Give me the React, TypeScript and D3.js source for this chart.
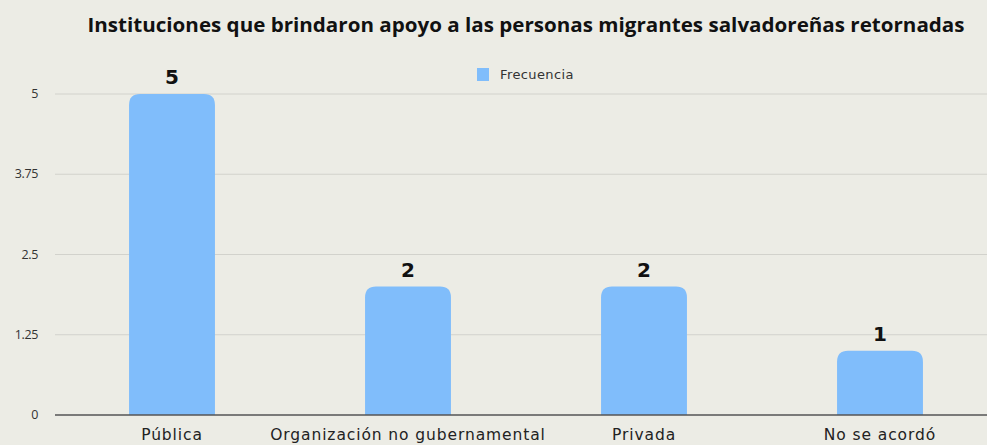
import React from "react";
import * as d3 from "d3";

const categories = ["Pública", "Organización no gubernamental", "Privada", "No se acordó"];
const values = [5, 2, 2, 1];
const yTicks = [0, 1.25, 2.5, 3.75, 5];
const yTickLabels = ["0", "1.25", "2.5", "3.75", "5"];
const seriesName = "Frecuencia";
const title = "Instituciones que brindaron apoyo a las personas migrantes salvadoreñas retornadas";

const W = 987;
const H = 445;

export default function App() {
  const x = d3.scaleBand<string>().domain(categories).range([54, 998]).paddingInner(0.636).paddingOuter(0.318);
  const y = d3.scaleLinear().domain([0, 5]).range([415, 94]);
  const bw = x.bandwidth();
  const r = 11;
  const barPath = (xs: number, yt: number, w: number, yb: number) => {
    const p = d3.path();
    p.moveTo(xs, yb);
    p.lineTo(xs, yt + r);
    p.quadraticCurveTo(xs, yt, xs + r, yt);
    p.lineTo(xs + w - r, yt);
    p.quadraticCurveTo(xs + w, yt, xs + w, yt + r);
    p.lineTo(xs + w, yb);
    p.closePath();
    return p.toString();
  };
  return (
    <svg width={W} height={H} style={{ position: "absolute", left: 0, top: 0, background: "#ecece5" }}>
      <rect x={0} y={0} width={W} height={H} fill="#ecece5" />
      <text x={526} y={32} textAnchor="middle" fontFamily="Open Sans" fontWeight={700} fontSize={19} fill="#111" textLength={877} lengthAdjust="spacingAndGlyphs">{title}</text>
      {yTicks.map((t, i) => (
        <g key={t}>
          {t !== 0 && <line x1={55} x2={W} y1={y(t)} y2={y(t)} stroke="#d2d2cc" strokeWidth={1} />}
          <text x={38} y={y(t) + 4} textAnchor="end" fontFamily="Open Sans" fontSize={12.5} fill="#333" letterSpacing={-0.4}>{yTickLabels[i]}</text>
        </g>
      ))}
      {categories.map((c, i) => (
        <g key={c}>
          <path d={barPath(x(c)!, y(values[i]), bw, y(0))} fill="#80bdfb" />
          <text x={x(c)! + bw / 2} y={y(values[i]) - 10} textAnchor="middle" fontFamily="DejaVu Sans" fontWeight={700} fontSize={20} fill="#111">{values[i]}</text>
          <text x={x(c)! + bw / 2} y={440} textAnchor="middle" fontFamily="DejaVu Sans" fontSize={15.5} letterSpacing={0.9} fill="#222">{c}</text>
        </g>
      ))}
      <line x1={55} x2={W} y1={y(0)} y2={y(0)} stroke="#555" strokeWidth={1.5} />
      <rect x={477} y={68} width={12} height={13} fill="#80bdfb" />
      <text x={500} y={79} fontFamily="DejaVu Sans" fontSize={13} letterSpacing={0.4} fill="#333">{seriesName}</text>
    </svg>
  );
}
